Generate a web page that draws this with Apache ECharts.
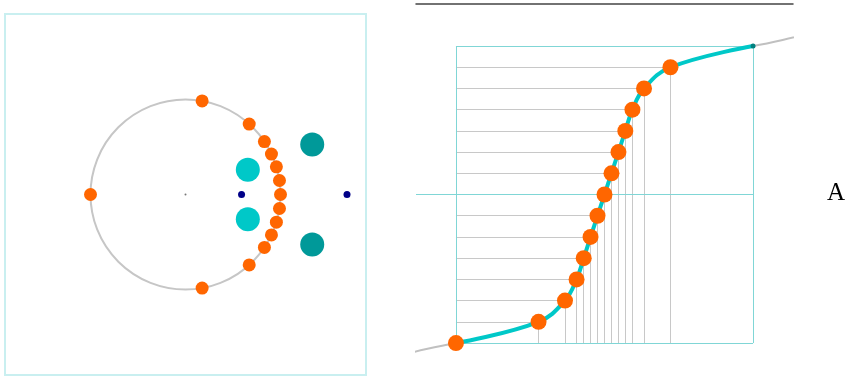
<!DOCTYPE html>
<html>
<head>
<meta charset="utf-8">
<style>
  html, body { margin: 0; padding: 0; background: #fff; }
  #chart { width: 848px; height: 376px; }
</style>
<script src="https://cdn.jsdelivr.net/npm/echarts@6/dist/echarts.min.js"></script>
</head>
<body>
<div id="chart"></div>
<script>
// Warped frequency (as a fraction of pi) for each uniform step k = 0..7
const warpedFrac = [0, 0.047, 0.094, 0.14, 0.188, 0.266, 0.444, 1];
// Number of uniform steps per half band
const steps = 7;
// Pole and zero of the all-pass section on the real axis
const poleReal = [[0.59, 0]];
const zeroReal = [[1.7, 0]];
// Pole pair inside and its mirrored pair outside the unit circle
const innerPair = [[0.656, 0.26], [0.656, -0.26]];
const outerPair = [[1.334, 0.526], [1.334, -0.526]];
// Plane extent of the left panel and axis extent of the right panel
const planeLim = 1.9;
const warpLim = 1.269;
const warpTop = 1.283;
const warpBottom = -1.222;

const ORANGE = '#ff6600';
const CYAN = '#00c8c8';
const TEAL = '#009999';
const NAVY = '#000088';
const GRID_GRAY = '#c8c8c8';
const BOX = '#80d6d6';

// Curve samples (x = warped / pi, y = uniform / pi) for k = -steps..steps
const curve = [];
for (let k = -steps; k <= steps; k++) {
  const s = Math.sign(k);
  curve.push([s * warpedFrac[Math.abs(k)], k / steps]);
}
// Periodic continuation outside [-1, 1]
const curveBelow = curve.map(p => [p[0] - 2, p[1] - 2]);
const curveAbove = curve.map(p => [p[0] + 2, p[1] + 2]);

// Points on the unit circle (the angle pi and -pi coincide, so k = -steps is skipped)
const circlePts = [];
for (let k = -steps + 1; k <= steps; k++) {
  const a = Math.sign(k) * warpedFrac[Math.abs(k)] * Math.PI;
  circlePts.push([Math.cos(a), Math.sin(a)]);
}

// Orange markers on the curve (k = -steps..steps-1), end marker at k = steps
const curveDots = curve.slice(0, curve.length - 1);
const curveEnd = [curve[curve.length - 1]];

// Guide segments: horizontal from the box edge to the point, vertical down to the box bottom
const hGuides = [];
const vGuides = [];
for (let k = -steps + 1; k <= steps - 1; k++) {
  const p = curve[k + steps];
  hGuides.push({ coords: [[-1, p[1]], [p[0], p[1]]] });
  vGuides.push({ coords: [[p[0], p[1]], [p[0], -1]] });
}
const boxEdges = [
  { coords: [[-1, -1], [1, -1]] },
  { coords: [[1, -1], [1, 1]] },
  { coords: [[1, 1], [-1, 1]] },
  { coords: [[-1, 1], [-1, -1]] },
  { coords: [[-warpLim, 0], [1, 0]] }
];

const chart = echarts.init(document.getElementById('chart'), null, { renderer: 'canvas' });

const hiddenAxis = (idx, lo, hi) => ({
  type: 'value', gridIndex: idx, min: lo, max: hi,
  show: false, splitLine: { show: false }
});

const dot = (xi, data, size, color, z) => ({
  type: 'scatter', xAxisIndex: xi, yAxisIndex: xi, data: data, symbolSize: size,
  itemStyle: { color: color, opacity: 1 }, z: z
});

chart.setOption({
  animation: false,
  backgroundColor: '#ffffff',
  title: {
    text: 'A',
    left: 822, top: 176,
    textStyle: { fontFamily: 'Liberation Serif', fontSize: 25, fontWeight: 'normal', color: '#000' }
  },
  grid: [
    { left: 5, top: 14, width: 361, height: 361, show: true, borderColor: '#c9eff0', borderWidth: 2, backgroundColor: 'transparent' },
    { left: 416, top: 4, width: 377, height: 372 }
  ],
  xAxis: [
    hiddenAxis(0, -planeLim, planeLim),
    {
      type: 'value', gridIndex: 1, min: -warpLim, max: warpLim, position: 'top',
      axisLine: { show: true, onZero: false, lineStyle: { color: '#444', width: 1.5 } },
      axisTick: { show: false }, axisLabel: { show: false }, splitLine: { show: false }
    }
  ],
  yAxis: [
    hiddenAxis(0, -planeLim, planeLim),
    hiddenAxis(1, warpBottom, warpTop)
  ],
  series: [
    // ---- left: z-plane ----
    {
      type: 'custom', xAxisIndex: 0, yAxisIndex: 0, data: [[0, 0, 1]],
      renderItem: (params, api) => {
        const c = api.coord([api.value(0), api.value(1)]);
        const r = api.size([api.value(2), 0])[0];
        return { type: 'circle', shape: { cx: c[0], cy: c[1], r: r },
          style: { fill: 'none', stroke: '#c6c6c6', lineWidth: 2 } };
      },
      z: 1
    },
    dot(0, [[0, 0]], 2, '#777', 2),
    dot(0, circlePts, 13, ORANGE, 3),
    dot(0, innerPair, 24, CYAN, 3),
    dot(0, outerPair, 24, TEAL, 3),
    dot(0, poleReal.concat(zeroReal), 7, NAVY, 3),

    // ---- right: warping curve ----
    { type: 'lines', coordinateSystem: 'cartesian2d', xAxisIndex: 1, yAxisIndex: 1,
      data: hGuides.concat(vGuides), lineStyle: { color: GRID_GRAY, width: 1, opacity: 1 }, z: 1, silent: true },
    { type: 'lines', coordinateSystem: 'cartesian2d', xAxisIndex: 1, yAxisIndex: 1,
      data: boxEdges, lineStyle: { color: BOX, width: 1, opacity: 1 }, z: 2, silent: true },
    { type: 'line', xAxisIndex: 1, yAxisIndex: 1, data: curveBelow, smooth: 0.4, showSymbol: false,
      lineStyle: { color: '#c0c0c0', width: 2 }, clip: true, z: 2 },
    { type: 'line', xAxisIndex: 1, yAxisIndex: 1, data: curveAbove, smooth: 0.4, showSymbol: false,
      lineStyle: { color: '#c0c0c0', width: 2 }, clip: true, z: 2 },
    { type: 'line', xAxisIndex: 1, yAxisIndex: 1, data: curve, smooth: 0.4, showSymbol: false,
      lineStyle: { color: CYAN, width: 4 }, z: 3 },
    dot(1, curveEnd, 5, '#00807f', 4),
    dot(1, curveDots, 16, ORANGE, 5)
  ]
});
</script>
</body>
</html>
